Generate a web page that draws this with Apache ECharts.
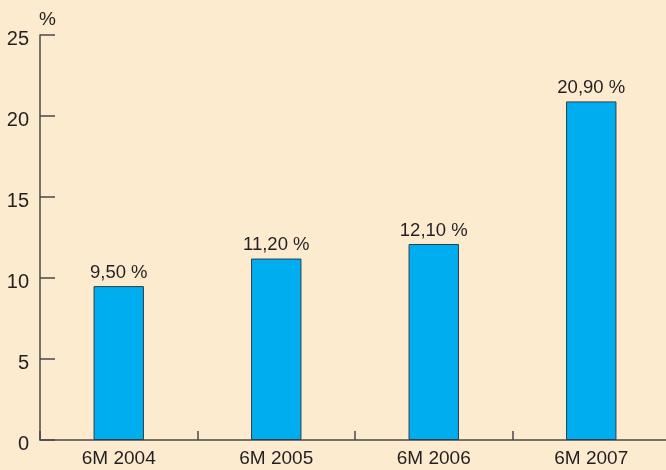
<!DOCTYPE html>
<html>
<head>
<meta charset="utf-8">
<script src="https://cdn.jsdelivr.net/npm/echarts@6/dist/echarts.min.js"></script>
<style>
  html, body { margin: 0; padding: 0; background: #fdebd0; }
  #chart { width: 666px; height: 470px; }
</style>
</head>
<body>
<div id="chart"></div>
<script>
// Half-year growth rates, percent
const categories = ['6M 2004', '6M 2005', '6M 2006', '6M 2007'];
const values = [9.5, 11.2, 12.1, 20.9];
const yTicks = [0, 5, 10, 15, 20, 25];

const textColor = '#231f20';
const axisColor = '#4a4a4a';
const fontFamily = '"Liberation Sans", Arial, sans-serif';

const chart = echarts.init(document.getElementById('chart'));
chart.setOption({
  backgroundColor: '#fdebd0',
  animation: false,
  // plot runs slightly past the right edge of the canvas
  grid: { left: 40, width: 630, top: 35, bottom: 30, outerBoundsMode: 'none' },
  xAxis: {
    type: 'category',
    data: categories,
    boundaryGap: true,
    axisLine: { lineStyle: { color: axisColor, width: 1.5 } },
    axisTick: { show: true, interval: 0, inside: true, length: 9, lineStyle: { color: axisColor, width: 1.5 } },
    axisLabel: { color: textColor, fontSize: 19, fontFamily: fontFamily, margin: 9 }
  },
  yAxis: {
    type: 'value',
    min: yTicks[0],
    max: yTicks[yTicks.length - 1],
    interval: 5,
    name: '%',
    nameLocation: 'end',
    nameGap: 6,
    nameTextStyle: { color: textColor, fontSize: 19, fontFamily: fontFamily, align: 'left', padding: [0, 0, 0, -1] },
    axisLine: { show: true, lineStyle: { color: axisColor, width: 1.5 } },
    axisTick: { show: true, inside: true, length: 15, lineStyle: { color: axisColor, width: 1.5 } },
    splitLine: { show: false },
    axisLabel: {
      color: textColor, fontSize: 20, fontFamily: fontFamily, margin: 11,
      verticalAlign: 'top', lineHeight: 8
    }
  },
  series: [{
    type: 'bar',
    data: values,
    barWidth: '32%',
    itemStyle: { color: '#00aeef', borderColor: '#2b3f4a', borderWidth: 1 },
    label: {
      show: true,
      position: 'top',
      distance: 4,
      color: textColor,
      fontSize: 18.5,
      fontFamily: fontFamily,
      formatter: p => p.value.toFixed(2).replace('.', ',') + ' %'
    }
  }]
});
</script>
</body>
</html>
